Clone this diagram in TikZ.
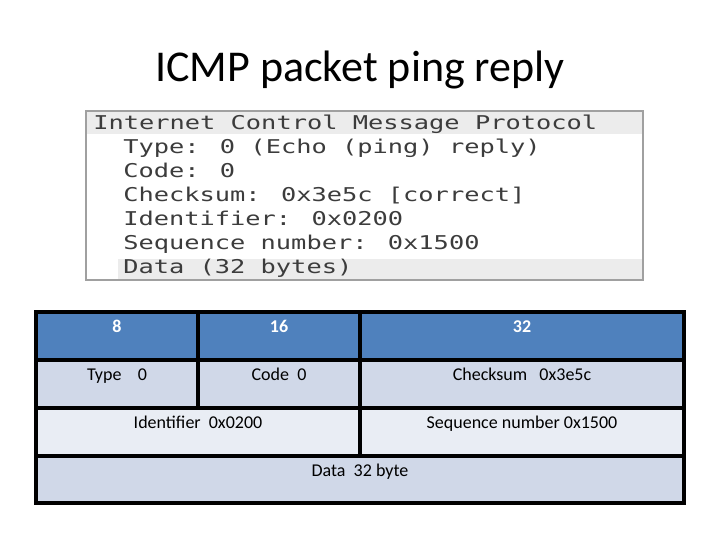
\documentclass[tikz,border=0pt]{standalone}
\usepackage{fontspec}
\setmainfont{Carlito}
\newfontfamily\wiremono{DejaVu Sans Mono}
\usetikzlibrary{positioning}

\definecolor{headblue}{HTML}{4F81BD}
\definecolor{rowdark}{HTML}{D0D8E8}
\definecolor{rowlight}{HTML}{E9EDF4}
\definecolor{shotgray}{HTML}{A0A0A0}
\definecolor{shotband}{HTML}{ECECEC}
\definecolor{shottext}{HTML}{3C3C3C}

\tikzset{
    cell/.style={draw=black, line width=3.3pt, anchor=north west, inner sep=0pt, outer sep=0pt},
    celltext/.style={font=\fontsize{18}{20}\selectfont, text=black, inner sep=0pt, text height=12pt, text depth=4pt},
    headtext/.style={font=\fontsize{18}{20}\selectfont\bfseries, text=white, inner sep=0pt, text height=12pt, text depth=4pt},
    shotline/.style={font=\wiremono\fontsize{19}{20}\selectfont, text=shottext, anchor=base west, inner sep=0pt, xscale=1.335}
}

\begin{document}
\begin{tikzpicture}[x=1pt, y=-1pt]
    \useasboundingbox (0,0) rectangle (720,540);
    \fill[white] (0,0) rectangle (720,540);

    % Title
    \node[font=\fontsize{44}{48}\selectfont, inner sep=0pt] (title) at (360,70.5) {ICMP packet ping reply};

    % Screenshot of the decoded packet
    \node[draw=shotgray, line width=1.5pt, fill=white, anchor=north west, inner sep=0pt, outer sep=0pt,
          minimum width=557pt, minimum height=169pt] (shot) at (86,111) {};
    \fill[shotband] (86.8,111.8) rectangle (642.2,134);
    \fill[shotband] (118,259) rectangle (642.2,279.2);
    \node[shotline] (shotzero) at (93,129.5) {Internet Control Message Protocol};
    \node[shotline] (shotone) at (123,153.5) {Type: 0 (Echo (ping) reply)};
    \node[shotline] (shottwo) at (123,177.5) {Code: 0};
    \node[shotline] (shotthree) at (123,201.5) {Checksum: 0x3e5c [correct]};
    \node[shotline] (shotfour) at (123,225.5) {Identifier: 0x0200};
    \node[shotline] (shotfive) at (123,249.5) {Sequence number: 0x1500};
    \node[shotline] (shotsix) at (123,273.5) {Data (32 bytes)};

    % Header row
    \node[cell, fill=headblue, minimum width=162pt, minimum height=48pt] (headA) at (36,312) {};
    \node[cell, fill=headblue, minimum width=162pt, minimum height=48pt] (headB) at (198,312) {};
    \node[cell, fill=headblue, minimum width=324pt, minimum height=48pt] (headC) at (360,312) {};

    % Type, code, checksum
    \node[cell, fill=rowdark, minimum width=162pt, minimum height=48pt] (typecell) at (36,360) {};
    \node[cell, fill=rowdark, minimum width=162pt, minimum height=48pt] (codecell) at (198,360) {};
    \node[cell, fill=rowdark, minimum width=324pt, minimum height=48pt] (sumcell) at (360,360) {};

    % Identifier, sequence number
    \node[cell, fill=rowlight, minimum width=324pt, minimum height=48pt] (idcell) at (36,408) {};
    \node[cell, fill=rowlight, minimum width=324pt, minimum height=48pt] (seqcell) at (360,408) {};

    % Data
    \node[cell, fill=rowdark, minimum width=648pt, minimum height=47pt] (datacell) at (36,456) {};

    % Cell labels
    \node[headtext] (headAtext) at (117,328) {8};
    \node[headtext] (headBtext) at (279,328) {16};
    \node[headtext] (headCtext) at (522,328) {32};
    \node[celltext] (typetext) at (117,376) {Type\ \ \ \ 0};
    \node[celltext] (codetext) at (279,376) {Code\ \ 0};
    \node[celltext] (sumtext) at (522,376) {Checksum\ \ \ 0x3e5c};
    \node[celltext] (idtext) at (198,424) {Identifier\ \ 0x0200};
    \node[celltext] (seqtext) at (522,424) {Sequence number 0x1500};
    \node[celltext] (datatext) at (360,472) {Data\ \ 32 byte};
\end{tikzpicture}
\end{document}
